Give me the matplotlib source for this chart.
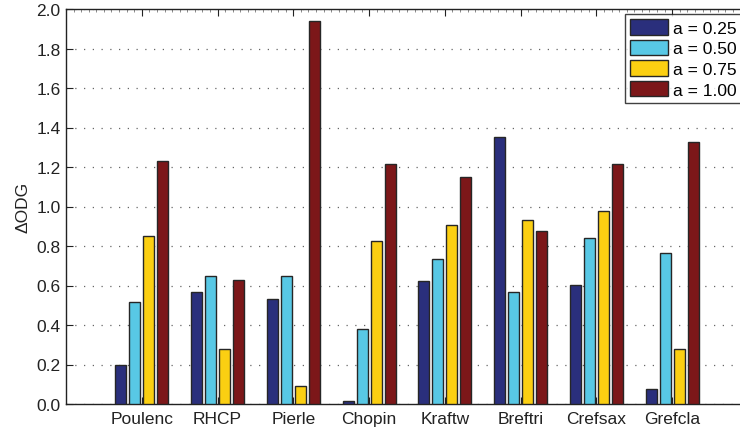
import numpy as np
import matplotlib
matplotlib.use("Agg")
import matplotlib.pyplot as plt
from matplotlib.ticker import MultipleLocator

plt.rcParams['font.family'] = ['Liberation Sans', 'DejaVu Sans']

categories = ["Poulenc", "RHCP", "Pierle", "Chopin", "Kraftw", "Breftri", "Crefsax", "Grefcla"]
series_labels = ["a = 0.25", "a = 0.50", "a = 0.75", "a = 1.00"]
a025 = [0.197, 0.565, 0.530, 0.015, 0.624, 1.350, 0.603, 0.076]
a050 = [0.518, 0.650, 0.646, 0.381, 0.732, 0.565, 0.842, 0.763]
a075 = [0.850, 0.278, 0.089, 0.825, 0.908, 0.930, 0.979, 0.277]
a100 = [1.232, 0.626, 1.939, 1.213, 1.151, 0.874, 1.214, 1.325]
yticks = [0.0, 0.2, 0.4, 0.6, 0.8, 1.0, 1.2, 1.4, 1.6, 1.8, 2.0]

colors = ["#2A2F7C", "#58C8E5", "#FBCF12", "#7C1719"]

fig = plt.figure(figsize=(7.4, 4.31), dpi=100)
ax = fig.add_axes([66/740, 26/431, (748-66)/740, (405-10)/431])

x = np.arange(1, len(categories) + 1)
slot = 0.185
width = 0.145
series = [a025, a050, a075, a100]
for i, (vals, lab, c) in enumerate(zip(series, series_labels, colors)):
    ax.bar(x + (i - 1.5) * slot, vals, width=width, color=c, edgecolor="#262626",
           linewidth=1.0, label=lab, zorder=3)

ax.set_xlim(0, 9)
ax.set_ylim(0, 2.0)
ax.set_yticks(yticks)
ax.set_yticklabels([f"{t:.1f}" for t in yticks])
ax.set_xticks(x)
ax.set_xticklabels(categories)
ax.xaxis.set_minor_locator(MultipleLocator(0.1))

ax.tick_params(axis="both", which="major", direction="in", length=5, width=0.8,
               labelsize=12.5, top=True, right=True, colors="#222222", labelcolor="#222222")
ax.tick_params(axis="x", which="minor", direction="in", length=2, width=0.6,
               top=True, bottom=False, colors="#777777")
ax.tick_params(axis="x", which="major", pad=5)
ax.tick_params(axis="y", which="major", pad=4)

ax.yaxis.grid(True, linestyle=(0, (1, 6)), color="#666666", linewidth=0.9, zorder=0)
ax.set_axisbelow(True)

for s in ax.spines.values():
    s.set_linewidth(1.0)
    s.set_color("#222222")

ax.set_ylabel("\u0394ODG", fontsize=12.5, color="#222222", labelpad=4)

leg = ax.legend(loc="upper left", bbox_to_anchor=(625/740, (431-15)/431),
                bbox_transform=fig.transFigure, borderaxespad=0, fontsize=12.5,
                frameon=True, fancybox=False, handlelength=2.2, handleheight=1.0,
                handletextpad=0.25, labelspacing=0.22, borderpad=0.3)
leg.get_frame().set_edgecolor("#111111")
leg.get_frame().set_linewidth(1.0)

fig.savefig("out.png", dpi=100)
